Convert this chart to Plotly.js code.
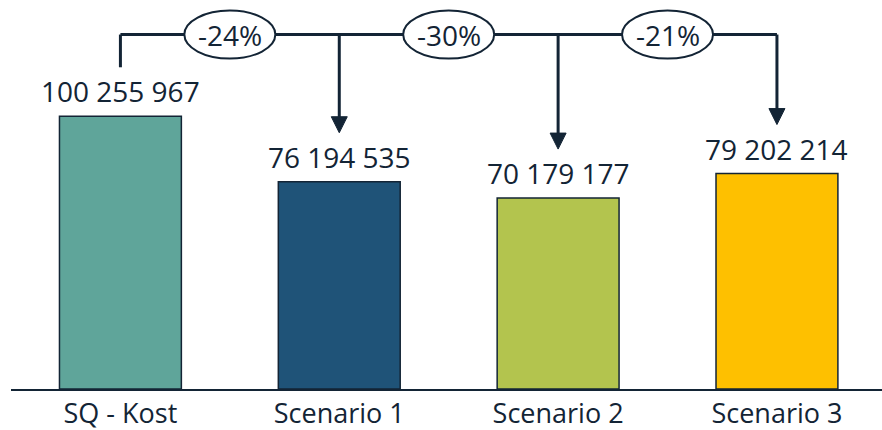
<!DOCTYPE html>
<html>
<head>
<meta charset="utf-8">
<script src="https://cdn.plot.ly/plotly-3.0.1.min.js"></script>
<style>
  html, body { margin: 0; padding: 0; background: #ffffff; }
  #chart { width: 882px; height: 430px; }
</style>
</head>
<body>
<div id="chart"></div>
<script>
// Cost per scenario
const categories = ['SQ - Kost', 'Scenario 1', 'Scenario 2', 'Scenario 3'];
const costs = [100255967, 76194535, 70179177, 79202214];
const barColors = ['#5fa59a', '#1f5378', '#b3c44e', '#fec000'];

const ink = '#132435';
const fontFamily = '"Open Sans", "Noto Sans", sans-serif';

// plot geometry
const W = 882, H = 430;
const margin = { l: 11, r: 0, t: 0, b: 41 };
const plotH = H - margin.t - margin.b;
const yMax = 143e6;
const unitsPerPx = yMax / plotH;
const bracketLevel = 130.3e6;   // height of the horizontal connector
const gapPx = 49;               // space between bar top and connector end

const fmt = v => String(v).replace(/\B(?=(\d{3})+(?!\d))/g, ' ');

const trace = {
  type: 'bar',
  x: [0, 1, 2, 3],
  y: costs,
  width: 0.557,
  marker: { color: barColors, line: { color: ink, width: 1.5 } },
  hoverinfo: 'skip'
};

const shapes = [];
const annotations = [];

// value labels above bars
costs.forEach((v, i) => {
  annotations.push({
    x: i, y: v, xref: 'x', yref: 'y',
    text: fmt(v), showarrow: false,
    yanchor: 'bottom', yshift: 4,
    font: { family: fontFamily, size: 28, color: ink }
  });
});

// horizontal connector from the status quo to the last scenario
shapes.push({
  type: 'line', xref: 'x', yref: 'y',
  x0: 0, x1: costs.length - 1, y0: bracketLevel, y1: bracketLevel,
  line: { color: ink, width: 3 }
});

// drop line from status quo (no arrow head)
shapes.push({
  type: 'line', xref: 'x', yref: 'y',
  x0: 0, x1: 0, y0: bracketLevel, y1: costs[0] + gapPx * unitsPerPx,
  line: { color: ink, width: 3 }
});

// arrows down to each scenario
for (let i = 1; i < costs.length; i++) {
  shapes.push({
    type: 'line', xref: 'x', yref: 'y',
    x0: i, x1: i, y0: bracketLevel, y1: costs[i] + (gapPx + 8) * unitsPerPx,
    line: { color: ink, width: 3 }
  });
  shapes.push({
    type: 'path', xref: 'x', yref: 'y',
    xsizemode: 'pixel', ysizemode: 'pixel',
    xanchor: i, yanchor: costs[i],
    path: `M -8 ${gapPx + 16} L 8 ${gapPx + 16} L 0 ${gapPx} Z`,
    fillcolor: ink, line: { color: ink, width: 1 }
  });
}

// change badges between bars
for (let i = 1; i < costs.length; i++) {
  const pct = Math.round((costs[i] / costs[0] - 1) * 100);
  const xm = i - 0.5;
  shapes.push({
    type: 'circle', xref: 'x', yref: 'y',
    xsizemode: 'pixel', ysizemode: 'pixel',
    xanchor: xm, yanchor: bracketLevel,
    x0: -45.5, x1: 45.5, y0: -24, y1: 24,
    fillcolor: '#ffffff', line: { color: ink, width: 2 }
  });
  annotations.push({
    x: xm, y: bracketLevel, xref: 'x', yref: 'y',
    text: (pct < 0 ? '-' : '+') + Math.abs(pct) + '%',
    showarrow: false, yanchor: 'middle', xanchor: 'center',
    font: { family: fontFamily, size: 28, color: ink }
  });
}

const layout = {
  width: W, height: H,
  margin: margin,
  paper_bgcolor: '#ffffff', plot_bgcolor: '#ffffff',
  showlegend: false,
  xaxis: {
    range: [-0.5, 3.48],
    tickvals: [0, 1, 2, 3], ticktext: categories,
    showgrid: false, zeroline: false,
    showline: true, linecolor: ink, linewidth: 2,
    ticks: '', ticklabelstandoff: 0,
    tickfont: { family: fontFamily, size: 27, color: ink },
    fixedrange: true
  },
  yaxis: {
    range: [0, yMax],
    visible: false, showgrid: false, zeroline: false,
    fixedrange: true
  },
  shapes: shapes,
  annotations: annotations
};

Plotly.newPlot('chart', [trace], layout, { displayModeBar: false, staticPlot: true });
</script>
</body>
</html>
